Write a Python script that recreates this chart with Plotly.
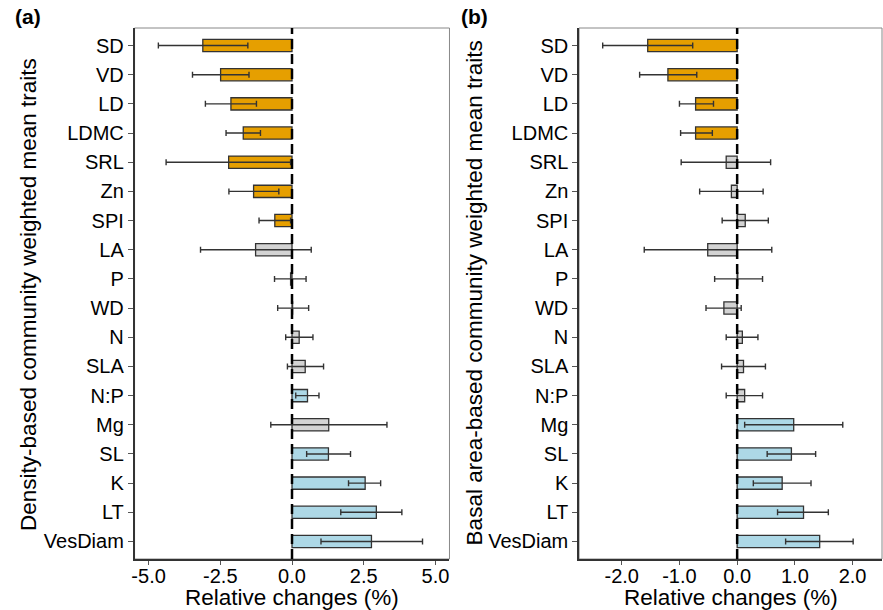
import plotly.graph_objects as go

traits = ["SD", "VD", "LD", "LDMC", "SRL", "Zn", "SPI", "LA", "P", "WD",
          "N", "SLA", "N:P", "Mg", "SL", "K", "LT", "VesDiam"]

# Panel (a): density-based CWM
a_val = [-3.11, -2.49, -2.13, -1.70, -2.21, -1.34, -0.60, -1.27, -0.05, 0.02,
         0.25, 0.46, 0.54, 1.28, 1.27, 2.55, 2.94, 2.77]
a_low = [-4.66, -3.47, -3.02, -2.30, -4.39, -2.20, -1.15, -3.19, -0.61, -0.50,
         -0.22, -0.16, 0.13, -0.74, 0.51, 1.97, 1.70, 1.01]
a_high = [-1.54, -1.50, -1.24, -1.10, -0.05, -0.46, -0.05, 0.67, 0.49, 0.58,
          0.73, 1.10, 0.94, 3.31, 2.04, 3.09, 3.83, 4.55]
a_grp = ["dec", "dec", "dec", "dec", "dec", "dec", "dec", "ns", "ns", "ns",
         "ns", "ns", "inc", "ns", "inc", "inc", "inc", "inc"]

# Panel (b): basal area-based CWM
b_val = [-1.55, -1.20, -0.72, -0.72, -0.19, -0.10, 0.14, -0.51, 0.01, -0.23,
         0.09, 0.11, 0.13, 0.98, 0.94, 0.78, 1.15, 1.43]
b_low = [-2.33, -1.69, -1.00, -0.98, -0.97, -0.65, -0.26, -1.61, -0.39, -0.54,
         -0.19, -0.27, -0.19, 0.13, 0.52, 0.28, 0.70, 0.84]
b_high = [-0.77, -0.70, -0.41, -0.43, 0.58, 0.45, 0.54, 0.60, 0.44, 0.07,
          0.36, 0.49, 0.44, 1.83, 1.36, 1.28, 1.58, 2.01]
b_grp = ["dec", "dec", "dec", "dec", "ns", "ns", "ns", "ns", "ns", "ns",
         "ns", "ns", "ns", "inc", "inc", "inc", "inc", "inc"]

a_ticks = [-5.0, -2.5, 0.0, 2.5, 5.0]
a_ticktext = ["-5.0", "-2.5", "0.0", "2.5", "5.0"]
b_ticks = [-2.0, -1.0, 0.0, 1.0, 2.0]
b_ticktext = ["-2.0", "-1.0", "0.0", "1.0", "2.0"]

colors = {"dec": "#E69F00", "ns": "#D3D3D3", "inc": "#ADD8E6"}
FONT = "Arial, Liberation Sans, sans-serif"
TICK = 20
TITLE = 22.5

fig = go.Figure()


def add_panel(vals, lows, highs, grps, xa, ya):
    fig.add_trace(go.Bar(
        x=vals, y=traits, orientation="h", width=0.42,
        marker=dict(color=[colors[g] for g in grps],
                    line=dict(color="#333333", width=1.3)),
        error_x=dict(type="data", symmetric=False,
                     array=[h - v for h, v in zip(highs, vals)],
                     arrayminus=[v - l for v, l in zip(vals, lows)],
                     color="#333333", thickness=1.4, width=3),
        xaxis=xa, yaxis=ya, showlegend=False, hoverinfo="skip"))


add_panel(a_val, a_low, a_high, a_grp, "x", "y")
add_panel(b_val, b_low, b_high, b_grp, "x2", "y2")

ydom = [51 / 610, 582 / 610]
yax = dict(domain=ydom, type="category", categoryorder="array",
           categoryarray=traits, range=[17.6, -0.6],
           showline=True, linecolor="#333333", linewidth=1.5,
           ticks="outside", ticklen=5, tickcolor="#555555",
           tickfont=dict(family=FONT, size=TICK, color="black"),
           showgrid=False, zeroline=False)
xax = dict(showline=True, linecolor="#333333", linewidth=1.5,
           ticks="outside", ticklen=4, tickcolor="#555555",
           ticklabelstandoff=-6,
           tickfont=dict(family=FONT, size=TICK, color="black"),
           showgrid=False, zeroline=False)

fig.update_layout(
    width=883, height=610,
    margin=dict(l=0, r=0, t=0, b=0),
    plot_bgcolor="white", paper_bgcolor="white",
    barmode="overlay",
    xaxis=dict(xax, domain=[132 / 883, 448 / 883], range=[-5.49, 5.49],
               tickvals=a_ticks, ticktext=a_ticktext, anchor="y"),
    yaxis=dict(yax, anchor="x"),
    xaxis2=dict(xax, domain=[578 / 883, 882 / 883], range=[-2.74, 2.51],
                tickvals=b_ticks, ticktext=b_ticktext, anchor="y2"),
    yaxis2=dict(yax, anchor="x2"),
)

# box outlines (thin gray) and dashed zero lines
for xr in ["x", "x2"]:
    yr = "y" if xr == "x" else "y2"
    fig.add_shape(type="rect", xref=f"{xr} domain", yref=f"{yr} domain",
                  x0=0, x1=1, y0=0, y1=1, line=dict(color="#888888", width=1),
                  layer="below")
    fig.add_shape(type="line", xref=xr, yref=f"{yr} domain",
                  x0=0, x1=0, y0=0, y1=1,
                  line=dict(color="black", width=2.5, dash="10px,5px"))


def label(text, x, y, size, angle=0):
    fig.add_annotation(text=text, x=x / 883, y=(610 - y) / 610,
                       xref="paper", yref="paper", xanchor="center",
                       yanchor="middle", textangle=angle, showarrow=False,
                       font=dict(family=FONT, size=size, color="black"))


label("Density-based community weighted mean traits", 25, 294, TITLE, -90)
label("Basal area-based community weighted mean traits", 473, 293, TITLE, -90)
label("Relative changes (%)", 290, 597, TITLE)
label("Relative changes (%)", 730, 597, TITLE)
label("<b>(a)</b>", 25, 17, 21)
label("<b>(b)</b>", 473, 17, 21)

fig.write_html("out.html")
